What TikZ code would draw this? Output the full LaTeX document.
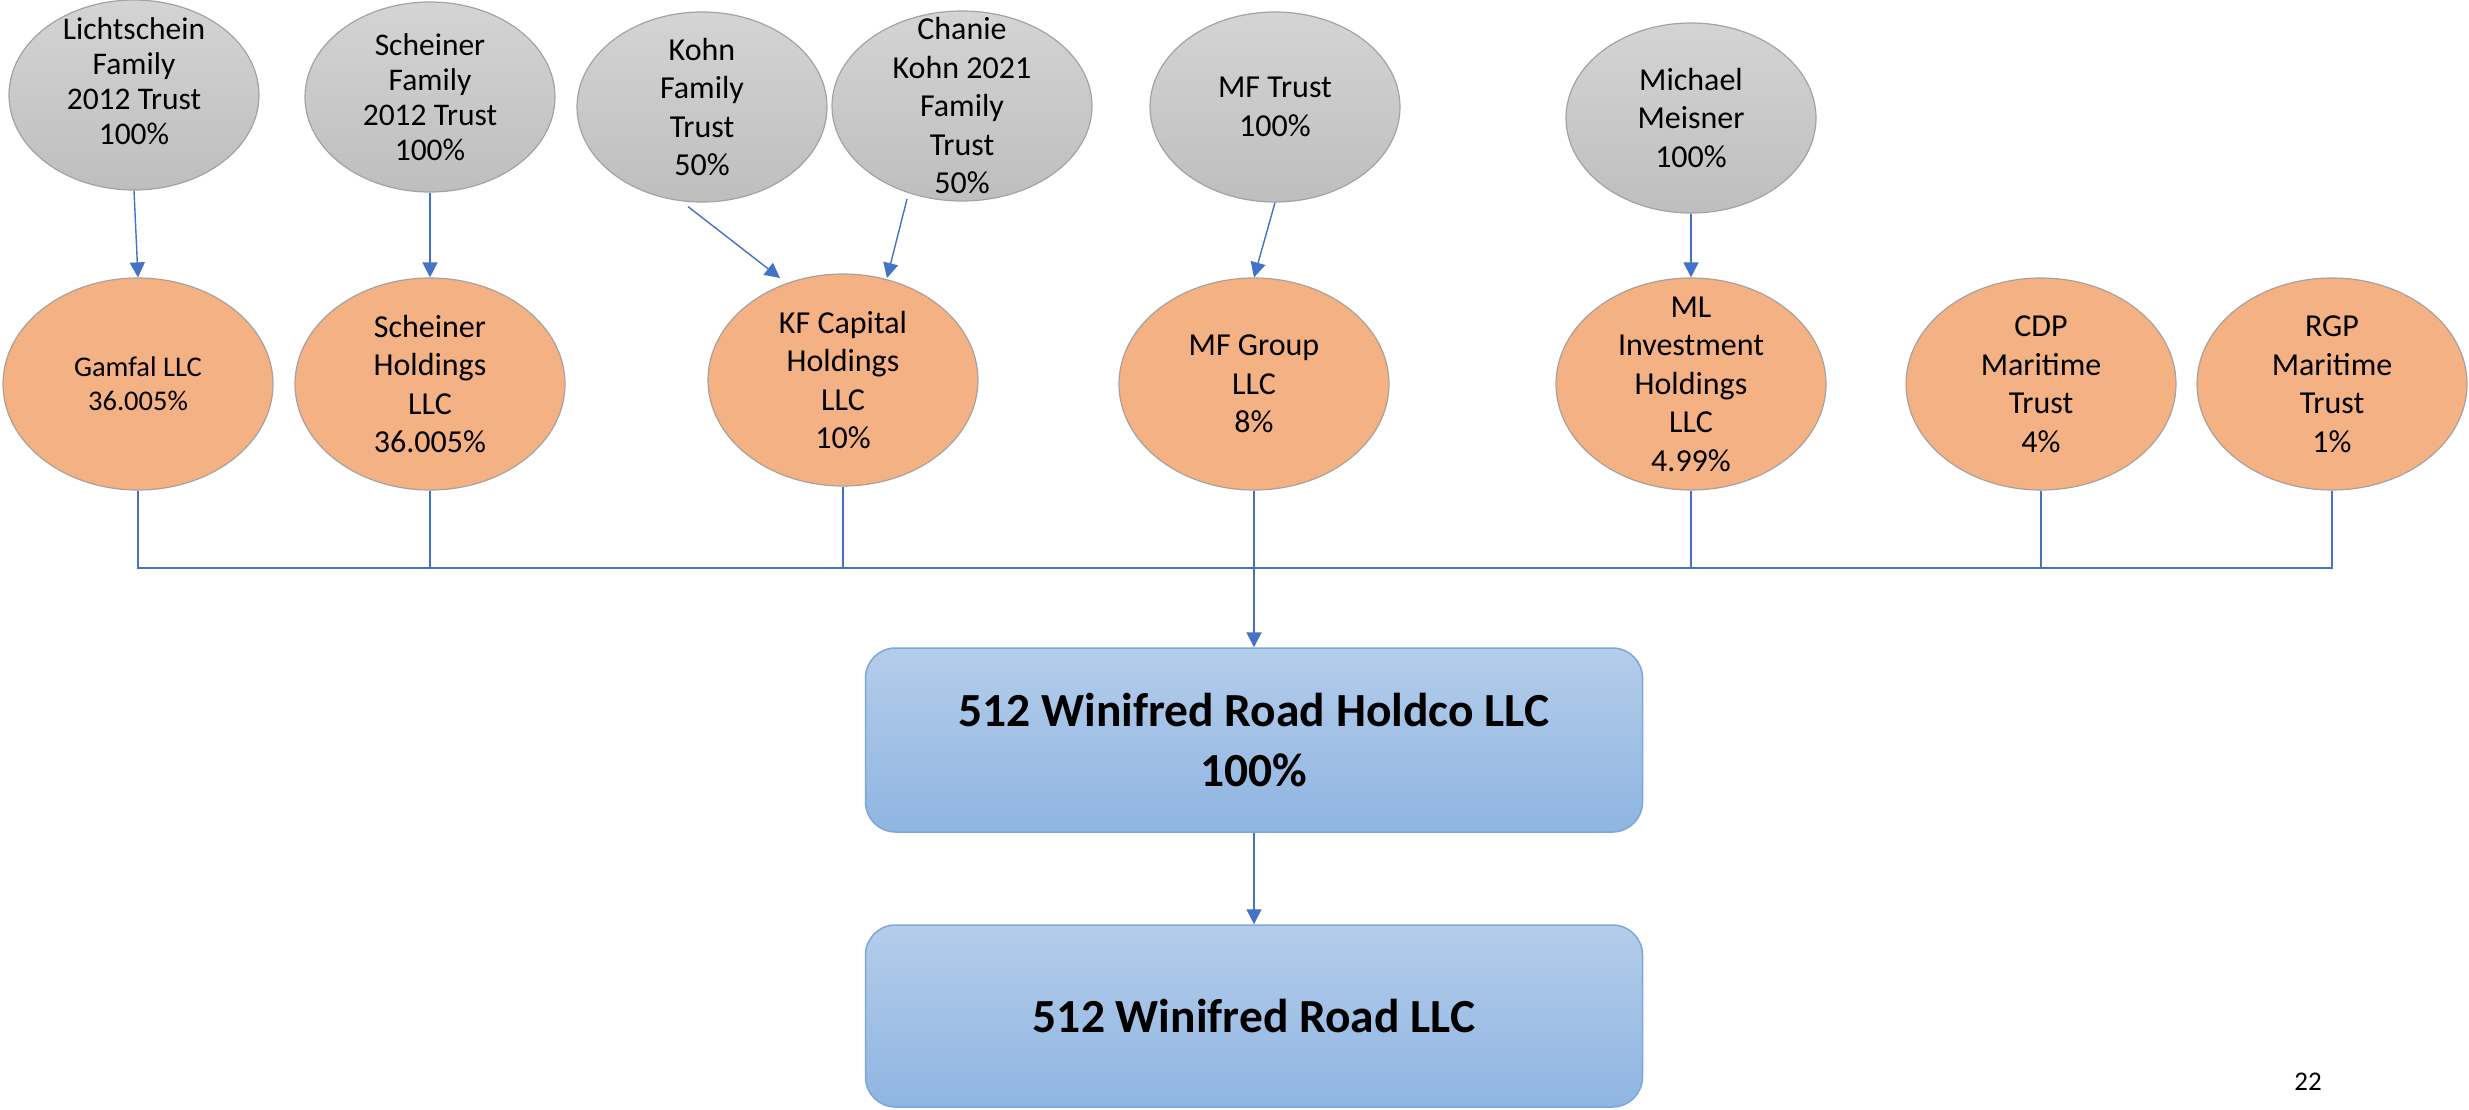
\documentclass[tikz,border=0pt]{standalone}
\usepackage{fontspec}
\setmainfont{Carlito}
\usetikzlibrary{shapes.geometric,arrows.meta,calc}
\definecolor{linkblue}{HTML}{4472C4}
\definecolor{gtop}{HTML}{D4D4D4}
\definecolor{gbot}{HTML}{BEBEBE}
\definecolor{gborder}{HTML}{A3A3A3}
\definecolor{ofill}{HTML}{F4B183}
\definecolor{oborder}{HTML}{A9A29C}
\definecolor{btop}{HTML}{B4CDEA}
\definecolor{bbot}{HTML}{8FB5E2}
\definecolor{bborder}{HTML}{7EA6DA}
\begin{document}
\begin{tikzpicture}[x=1pt,y=-1pt,
  gnode/.style={ellipse, draw=gborder, line width=1.2pt, top color=gtop, bottom color=gbot,
    minimum width=250pt, minimum height=190pt, inner sep=0pt},
  onode/.style={ellipse, draw=oborder, line width=1.2pt, fill=ofill,
    minimum width=270pt, minimum height=212pt, inner sep=0pt},
  txt/.style={align=center, font=\fontsize{32}{38.5}\selectfont, text=black},
  tighttxt/.style={align=center, font=\fontsize{31.5}{35}\selectfont, text=black},
  smalltxt/.style={align=center, font=\fontsize{28.5}{34}\selectfont, text=black},
  boxnode/.style={rectangle, rounded corners=30pt, draw=bborder, line width=1.5pt,
    top color=btop, bottom color=bbot, minimum width=777pt, minimum height=184pt,
    align=center, font=\bfseries\fontsize{47.5}{60}\selectfont},
  conn/.style={draw=linkblue, line width=1.4pt},
  arr/.style={conn, -{Triangle[length=15pt,width=15pt]}}
]
\useasboundingbox (0,0) rectangle (2469,1109);

% owners (grey)
\node[gnode, label={[tighttxt, yshift=14pt]center:Lichtschein\\Family\\2012 Trust\\100\%}] (lich) at (134,95) {};
\node[gnode, label={[tighttxt]center:Scheiner\\Family\\2012 Trust\\100\%}] (schf) at (430,97) {};
\node[gnode, label={[txt]center:Kohn\\Family\\Trust\\50\%}] (kohn) at (702,107) {};
\node[gnode, minimum width=260pt, label={[txt]center:Chanie\\Kohn 2021\\Family\\Trust\\50\%}] (chan) at (962,106) {};
\node[gnode, label={[txt]center:MF Trust\\100\%}] (mft) at (1275,107) {};
\node[gnode, label={[txt]center:Michael\\Meisner\\100\%}] (mich) at (1691,118) {};

% holding entities (orange)
\node[onode, label={[smalltxt]center:Gamfal LLC\\36.005\%}] (gam) at (138,384) {};
\node[onode, label={[txt]center:Scheiner\\Holdings\\LLC\\36.005\%}] (schh) at (430,384) {};
\node[onode, label={[txt]center:KF Capital\\Holdings\\LLC\\10\%}] (kf) at (843,380) {};
\node[onode, label={[txt]center:MF Group\\LLC\\8\%}] (mfg) at (1254,384) {};
\node[onode, label={[txt]center:ML\\Investment\\Holdings\\LLC\\4.99\%}] (ml) at (1691,384) {};
\node[onode, label={[txt]center:CDP\\Maritime\\Trust\\4\%}] (cdp) at (2041,384) {};
\node[onode, label={[txt]center:RGP\\Maritime\\Trust\\1\%}] (rgp) at (2332,384) {};

% boxes
\node[boxnode] (hold) at (1254,740) {512 Winifred Road Holdco LLC\\100\%};
\node[boxnode, minimum height=182pt] (road) at (1254,1016) {512 Winifred Road LLC};

\node[font=\fontsize{27}{30}\selectfont] (pg) at (2308,1082) {22};

% owner arrows
\draw[arr] (lich.south) -- (gam.north);
\draw[arr] (schf.south) -- (schh.north);
\draw[arr] ([shift={(-14,4)}]kohn.south) -- ([shift={(-63,-102)}]kf.center);
\draw[arr] ([shift={(-55,93)}]chan.center) -- ([shift={(44,-102)}]kf.center);
\draw[arr] (mft.south) -- (mfg.north);
\draw[arr] (mich.south) -- (ml.north);

% bus
\coordinate (bus) at (1254,568);
\foreach \n in {gam,schh,kf,mfg,ml,cdp,rgp}
  \draw[conn] (\n.south) |- (bus);
\draw[conn, line width=2.6pt] (kf.south |- bus) -- (bus);
\draw[arr, line width=2pt] (bus) -- (hold.north);
\draw[arr] (hold.south) -- (road.north);
\end{tikzpicture}
\end{document}
